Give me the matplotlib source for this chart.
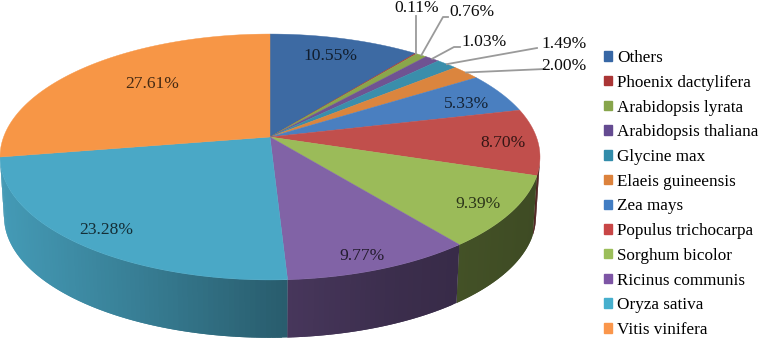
import numpy as np
import matplotlib
matplotlib.use("Agg")
import matplotlib.pyplot as plt
from matplotlib.patches import Rectangle

# data, clockwise from 12 o'clock
species = ["Others", "Phoenix dactylifera", "Arabidopsis lyrata", "Arabidopsis thaliana",
           "Glycine max", "Elaeis guineensis", "Zea mays", "Populus trichocarpa",
           "Sorghum bicolor", "Ricinus communis", "Oryza sativa", "Vitis vinifera"]
shares = [10.55, 0.11, 0.76, 1.03, 1.49, 2.00, 5.33, 8.70, 9.39, 9.77, 23.28, 27.61]
share_labels = ["10.55%", "0.11%", "0.76%", "1.03%", "1.49%", "2.00%",
                "5.33%", "8.70%", "9.39%", "9.77%", "23.28%", "27.61%"]
colors = ["#3D6AA3", "#A83A38", "#8AA64B", "#6F5392", "#3A8EAB", "#DB853E",
          "#4A7FC0", "#C14F4C", "#9BBB59", "#8163A6", "#4AA8C6", "#F79646"]
legend_colors = ["#3767A5", "#AA3535", "#87A54B", "#644B91", "#328CAA", "#DC823C",
                 "#417DC3", "#C84646", "#9BBE5A", "#7D55A5", "#46AFCD", "#FA964B"]

# where the labels sit, in pixels
label_pos = [(330, 56), (417, 8), (472, 12), (484, 42), (564, 44), (564, 66),
             (467, 104), (503, 143), (478, 204), (362, 256), (106, 230), (152, 84)]
# leader line elbows, only the thin slices have them
leaders = {1: [(416, 16)], 2: [(443, 17), (448, 17)], 3: [(454, 47), (460, 47)],
           4: [(537, 48)], 5: [(545, 69)]}

# perspective of the disc
cx, cy = 270, 137
R, S, k = 266.4, 119.7, 0.1626
depth = 60


def project(phi, scale=1.0, drop=0):
    u, v = np.sin(phi), np.cos(phi)
    w = 1 + k * v
    return cx + scale * R * u / w, cy + drop - scale * S * v / w


def shade(color, f):
    return tuple(c * f for c in matplotlib.colors.to_rgb(color))


fig = plt.figure(figsize=(7.6, 3.41), dpi=100)
ax = fig.add_axes([0, 0, 1, 1])
ax.set_xlim(0, 760)
ax.set_ylim(341, 0)
ax.axis("off")
plt.rcParams["font.family"] = ["Liberation Serif", "DejaVu Serif"]

edges = np.cumsum([0] + shares) / sum(shares) * 2 * np.pi

# side wall, only the part facing the viewer
for i, col in enumerate(colors):
    n = max(2, int((edges[i + 1] - edges[i]) * 60))
    phis = np.linspace(edges[i], edges[i + 1], n + 1)
    phis = phis[np.cos(phis) < -k + 0.005]
    for j in range(len(phis) - 1):
        a = phis[j]
        # overlap into the next step so no seams show
        b = phis[min(j + 2, len(phis) - 1)]
        xa, ya = project(a)
        xb, yb = project(b)
        xa2, ya2 = project(a, 0.985, depth)
        xb2, yb2 = project(b, 0.985, depth)
        f = np.interp(xa, [0, 133, 280, 400, 540], [0.92, 0.76, 0.56, 0.46, 0.4])
        ax.fill([xa, xb, xb2, xa2], [ya, yb, yb2, ya2], color=shade(col, f), lw=0, zorder=1)

# top face
for i, col in enumerate(colors):
    n = max(2, int((edges[i + 1] - edges[i]) * 60))
    phis = np.linspace(edges[i], edges[i + 1], n + 1)
    xs, ys = project(phis)
    ax.fill(np.r_[cx, xs], np.r_[cy, ys], color=col, lw=0.3, zorder=2)

# leader lines
for i, pts in leaders.items():
    x0, y0 = project((edges[i] + edges[i + 1]) / 2)
    xs = [x0] + [p[0] for p in pts]
    ys = [y0] + [p[1] for p in pts]
    ax.plot(xs, ys, color="#9a9a9a", lw=1.3, zorder=3)

for i, txt in enumerate(share_labels):
    inside = i not in leaders
    ax.text(label_pos[i][0], label_pos[i][1], txt, fontsize=12.6, ha="center", va="center",
            color="black", alpha=0.72 if inside else 0.95, zorder=4)

# legend
handles = [Rectangle((0, 0), 1, 1, color=c) for c in legend_colors]
ax.legend(handles, species, loc="upper left", bbox_to_anchor=(0.795, 0.853), frameon=False,
          fontsize=12.3, handlelength=0.47, handleheight=0.47, handletextpad=0.3,
          labelspacing=0.51, borderpad=0, borderaxespad=0)

fig.savefig("out.png", dpi=100)
